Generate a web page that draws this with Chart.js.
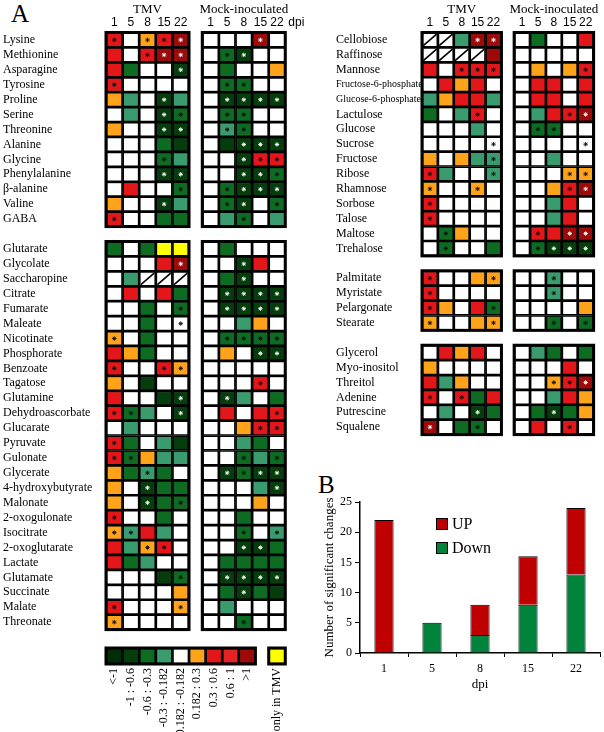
<!DOCTYPE html>
<html>
<head>
<meta charset="utf-8">
<script src="https://cdn.jsdelivr.net/npm/chart.js@4.4.0/dist/chart.umd.min.js"></script>
<style>
  body { margin: 0; background: #fff; width: 604px; height: 732px; position: relative; overflow: hidden; font-family: "Liberation Serif", serif; }
  canvas { position: absolute; }
  .panel { position: absolute; font-size: 25px; line-height: 1; color: #000; }
  #barLegend { position: absolute; left: 436px; top: 512px; font-size: 16px; color: #000; }
  #barLegend .item { display: flex; align-items: center; height: 24px; }
  #barLegend .box { width: 10px; height: 10px; border: 1px solid #000; margin-right: 4px; }
</style>
</head>
<body>
<div class="panel" style="left:11px;top:1px">A</div>
<div class="panel" style="left:318px;top:472px">B</div>
<canvas id="heatLeft" width="310" height="640" style="left:0;top:0"></canvas>
<canvas id="heatRight" width="274" height="445" style="left:330px;top:0"></canvas>
<canvas id="scaleStrip" width="310" height="92" style="left:0;top:640px"></canvas>
<canvas id="bars" width="286" height="262" style="left:318px;top:470px"></canvas>
<div id="barLegend"></div>

<script>
// ── Data ─────────────────────────────────────────────────────
// cell codes: d dark green, g green, t teal, w white, o orange, r red,
// R dark red, y yellow (only in TMV), x not detected; "*" = significant
const dpiLabels = ["1", "5", "8", "15", "22"];
const groupTitles = ["TMV", "Mock-inoculated"];

const aminoNames = ["Lysine", "Methionine", "Asparagine", "Tyrosine", "Proline", "Serine", "Threonine",
  "Alanine", "Glycine", "Phenylalanine", "β-alanine", "Valine", "GABA"];
const aminoTMV = ["r* w o* r* R*", "r w r* R* R*", "r g w w d*", "r* w w w w", "o t w d* t", "w t w d* g*",
  "o w w d* d*", "w w w g d", "w w w g* t", "w w w d* d*", "w r w w g*", "o w w d* t", "r* w w g g"];
const aminoMock = ["w w w R* w", "w g* d* w w", "w g w w o", "w g* g* w w", "w d* d* d* d*", "w g* g* w w",
  "w t* g* w w", "w d d* d* d*", "w w d* r* r*", "w w d* d* g*", "w g* d* d* d*", "w g* d* w g*", "w t g* w t"];

const organicNames = ["Glutarate", "Glycolate", "Saccharopine", "Citrate", "Fumarate", "Maleate", "Nicotinate",
  "Phosphorate", "Benzoate", "Tagatose", "Glutamine", "Dehydroascorbate", "Glucarate", "Pyruvate", "Gulonate",
  "Glycerate", "4-hydroxybutyrate", "Malonate", "2-oxogulonate", "Isocitrate", "2-oxoglutarate", "Lactate",
  "Glutamate", "Succinate", "Malate", "Threonate"];
const organicTMV = ["g w g y y", "w w w r R*", "w t x x x", "w r w r g", "w w g w g*", "w w g w w*",
  "o* w g w w", "r o g w w", "r* w w r* o*", "o w d w w", "r w w d d*", "r* g* t w d*", "w t w w w",
  "r* g w t d", "r* g* o t t", "o g t* g w", "o w d* g g", "o w d* g g*", "r* w w g w", "o* t* r t w",
  "r t o* r* w", "r g t w w", "w w w d g*", "w w w w o", "r* w w w o*", "o* w w w w"];
const organicMock = ["w g w w w", "w w d* r w", "w g d* w w", "w d* d* d* d*", "w d* d* d* d*", "w w t o w",
  "w g* g* g* g*", "w o w d* d*", "w w w w w", "w w w r* w", "w d* t w g", "w r w r r*", "w w o r* r*",
  "w w t g w", "w w g* t g*", "w d* g* d* d*", "w w w t d*", "w w w o w", "w w g w w", "w w g* w t*",
  "w w d* d* g", "w g g g g", "w d* d* d* d*", "w g d* g d", "w t w w w", "w w g* w w"];

const sugarNames = ["Cellobiose", "Raffinose", "Mannose", "Fructose-6-phosphate", "Glucose-6-phosphate",
  "Lactulose", "Glucose", "Sucrose", "Fructose", "Ribose", "Rhamnose", "Sorbose", "Talose", "Maltose", "Trehalose"];
const sugarTMV = ["x x t R* R*", "x x x x R", "r w r* r* r*", "w r o r w", "t o r r t", "g w t r* w",
  "w w w t w", "w w w w w*", "o w o t t*", "r* t w w t*", "o* w w o* w", "r* w w w w", "r* w w w w",
  "w g* o w w", "w g* w w g"];
const sugarMock = ["w g w w r", "w w w w w", "w o w o r*", "w r r w r", "w r r w r", "w t r r* R*",
  "w g* g* w w", "w w w w w*", "w w t w w", "w w w o* o*", "w w o r* R*", "w w t r w", "w w t r w",
  "w r* r R* R*", "w g* d* d* d*"];

const fattyNames = ["Palmitate", "Myristate", "Pelargonate", "Stearate"];
const fattyTMV = ["r* w w o o*", "r* w w w w", "r* o w r g*", "o* w w o o*"];
const fattyMock = ["w w t* w w", "w w t* w w", "w w w w o", "w w g* w g*"];

const otherNames = ["Glycerol", "Myo-inositol", "Threitol", "Adenine", "Putrescine", "Squalene"];
const otherTMV = ["w r o r w", "o w w w w", "r t o w w", "r* w r* g r", "w t w d* g", "R* w g g* w"];
const otherMock = ["w t g w g", "w w w r w", "w w o* r* R*", "w w t r o", "w g d* g o", "w r w r* w"];

const scaleLabels = ["<-1", "-1 : -0.6", "-0.6 : -0.3", "-0.3 : -0.182", "0.182 : -0.182",
  "0.182 : 0.3", "0.3 : 0.6", "0.6 : 1", ">1", "only in TMV"];
const scaleCodes = ["D", "d", "g", "t", "w", "o", "r", "s", "R", "y"];

const barDpi = ["1", "5", "8", "15", "22"];
const upCounts = [22, 0, 5, 8, 11];
const downCounts = [0, 5, 3, 8, 13];

// ── Styles ───────────────────────────────────────────────────
const colors = {
  D: "#022d06", d: "#053d0c", g: "#0d6b22", t: "#3a9b6e", w: "#ffffff",
  o: "#ffa31a", r: "#e3161a", s: "#e52226", R: "#9c0a0a", y: "#ffff00", x: "#ffffff",
};
const serif = "Liberation Serif";
const sans = "Liberation Sans";
const tmvX = [0, 1, 2, 3, 4];
const mockX = [5.8, 6.8, 7.8, 8.8, 9.8];
const colX = tmvX.concat(mockX);

// one blank row between groups
function buildRows(groups) {
  const rows = [];
  groups.forEach(([names, tmv, mock], gi) => {
    if (gi > 0) rows.push(null);
    names.forEach((name, i) => {
      rows.push({ name, cells: tmv[i].split(" ").concat(mock[i].split(" ")) });
    });
  });
  return rows;
}

function blockRanges(rows) {
  const out = [];
  let start = null;
  rows.forEach((r, i) => {
    if (r && start === null) start = i;
    if (!r && start !== null) { out.push([start, i - 1]); start = null; }
  });
  if (start !== null) out.push([start, rows.length - 1]);
  return out;
}

// thick frames round each block of cells, placed with the scales
const framePlugin = {
  id: "frames",
  afterDatasetsDraw(chart, args, opts) {
    const { ctx, scales: { x, y } } = chart;
    ctx.save();
    ctx.strokeStyle = "#000";
    ctx.lineWidth = 3;
    (opts.boxes || []).forEach(([c0, c1, r0, r1]) => {
      const left = x.getPixelForValue(c0), right = x.getPixelForValue(c1);
      const top = y.getPixelForValue(r0), bottom = y.getPixelForValue(r1);
      ctx.strokeRect(left, Math.min(top, bottom), right - left, Math.abs(bottom - top));
    });
    ctx.restore();
  },
};

const headerPlugin = {
  id: "header",
  afterDraw(chart, args, opts) {
    if (!opts.show) return;
    const { ctx, scales: { x }, chartArea } = chart;
    ctx.save();
    ctx.fillStyle = "#000";
    ctx.textBaseline = "middle";
    ctx.textAlign = "center";
    ctx.font = `13px "${serif}"`;
    ctx.fillText(groupTitles[0], x.getPixelForValue(tmvX[2]), 10);
    ctx.fillText(groupTitles[1], x.getPixelForValue(mockX[2]), 10);
    if (opts.dpi) {
      ctx.font = `12px "${sans}"`;
      ctx.textAlign = "left";
      ctx.fillText("dpi", chartArea.right + 3, 23);
    }
    ctx.restore();
  },
};

function drawHeatmap(id, groups, opts) {
  const rows = buildRows(groups);
  const datasets = [];
  const stars = [], starColors = [], slashes = [];

  rows.forEach((row, r) => {
    if (!row) return;
    datasets.push({
      type: "bar",
      data: colX.map((x) => ({ x, y: [r - 0.5, r + 0.5] })),
      backgroundColor: row.cells.map((c) => colors[c[0]]),
      borderColor: "#000",
      borderWidth: 1.7,
      borderSkipped: false,
      grouped: false,
      barPercentage: 1,
      categoryPercentage: 1,
      order: 1,
    });
    row.cells.forEach((c, j) => {
      if (c.includes("*")) {
        stars.push({ x: colX[j], y: r });
        starColors.push("dR".includes(c[0]) ? "#fff" : "#111");
      }
      if (c[0] === "x") slashes.push({ x: colX[j], y: r });
    });
  });

  // lower order = drawn on top of the cells
  datasets.push({
    type: "scatter", data: stars, order: -1, pointStyle: "star", pointRadius: 2.2,
    pointBorderColor: starColors, pointBorderWidth: 0.9, pointBackgroundColor: starColors,
  });
  datasets.push({
    type: "scatter", data: slashes, order: -1, pointStyle: "line", pointRadius: 8.8, pointRotation: -41,
    pointBorderColor: "#000", pointBorderWidth: 1.6,
  });

  const boxes = [];
  blockRanges(rows).forEach(([a, b]) => {
    boxes.push([-0.5, 4.5, a - 0.5, b + 0.5]);
    boxes.push([5.3, 10.3, a - 0.5, b + 0.5]);
  });

  return new Chart(document.getElementById(id), {
    type: "bar",
    data: { datasets },
    plugins: [framePlugin, headerPlugin],
    options: {
      responsive: false,
      animation: false,
      events: [],
      layout: { padding: opts.padding },
      plugins: {
        legend: { display: false },
        tooltip: { enabled: false },
        frames: { boxes },
        header: { show: true, dpi: opts.dpi },
      },
      scales: {
        x: {
          type: "linear", position: "top", min: -0.5, max: 10.3, offset: false,
          grid: { display: false, drawTicks: false }, border: { display: false },
          afterBuildTicks: (s) => { s.ticks = colX.map((value) => ({ value })); },
          afterFit: (s) => { s.height = 32.5; },
          ticks: {
            autoSkip: false, maxRotation: 0, padding: 3, color: "#000",
            font: { family: sans, size: 12 },
            callback: (v, i) => dpiLabels[i % 5],
          },
        },
        y: {
          type: "linear", reverse: true, min: -0.5, max: rows.length - 0.5,
          grid: { display: false, drawTicks: false }, border: { display: false },
          afterBuildTicks: (s) => {
            s.ticks = rows.map((r, i) => (r ? { value: i } : null)).filter(Boolean);
          },
          afterFit: (s) => { s.width = opts.labelWidth; },
          ticks: {
            autoSkip: false, crossAlign: "far", color: "#000", padding: 0,
            // the long phosphate names are set smaller so they fit before the grid
            font: (ctx) => {
              const row = ctx.tick ? rows[ctx.tick.value] : null;
              const long = row && row.name.length > 17;
              return { family: serif, size: long ? 10 : 12 };
            },
            callback: (v) => (rows[v] ? rows[v].name : ""),
          },
        },
      },
    },
  });
}

drawHeatmap("heatLeft", [[aminoNames, aminoTMV, aminoMock], [organicNames, organicTMV, organicMock]],
  { padding: { left: 3, right: 24.7, top: 0, bottom: 7.5 }, labelWidth: 103, dpi: true });

drawHeatmap("heatRight", [[sugarNames, sugarTMV, sugarMock], [fattyNames, fattyTMV, fattyMock],
  [otherNames, otherTMV, otherMock]],
  { padding: { left: 6, right: 4, top: 0, bottom: 7.5 }, labelWidth: 86, dpi: false });

// ── Colour scale strip ───────────────────────────────────────
const scaleX = [0, 1, 2, 3, 4, 5, 6, 7, 8, 9.8];
new Chart(document.getElementById("scaleStrip"), {
  type: "bar",
  data: {
    datasets: [{
      data: scaleX.map((x) => ({ x, y: [0, 1] })),
      backgroundColor: scaleCodes.map((c) => colors[c]),
      borderColor: "#000", borderWidth: 1.7, borderSkipped: false,
      barPercentage: 1, categoryPercentage: 1,
    }],
  },
  plugins: [framePlugin],
  options: {
    responsive: false,
    animation: false,
    events: [],
    layout: { padding: { left: 106, right: 24.7, top: 8, bottom: 0 } },
    plugins: {
      legend: { display: false },
      tooltip: { enabled: false },
      frames: { boxes: [[-0.5, 8.5, 0, 1], [9.3, 10.3, 0, 1]] },
    },
    scales: {
      x: {
        type: "linear", min: -0.5, max: 10.3, offset: false,
        grid: { display: false, drawTicks: false }, border: { display: false },
        afterBuildTicks: (s) => { s.ticks = scaleX.map((value) => ({ value })); },
        afterFit: (s) => { s.height = 68; },
        ticks: {
          autoSkip: false, minRotation: 90, maxRotation: 90, padding: 4, color: "#000",
          font: { family: serif, size: 12 },
          callback: (v, i) => scaleLabels[i],
        },
      },
      y: { display: false, min: 0, max: 1 },
    },
  },
});

// ── B: number of significant changes ─────────────────────────
const barChart = new Chart(document.getElementById("bars"), {
  type: "bar",
  data: {
    labels: barDpi,
    datasets: [
      { label: "Down", data: downCounts, backgroundColor: "#00843d", borderColor: "#000", borderWidth: 1 },
      { label: "UP", data: upCounts, backgroundColor: "#c00000", borderColor: "#000", borderWidth: 1 },
    ],
  },
  options: {
    responsive: false,
    animation: false,
    events: [],
    layout: { padding: { left: 0, right: 4, top: 32, bottom: 40 } },
    datasets: { bar: { barPercentage: 0.4, categoryPercentage: 1 } },
    plugins: { legend: { display: false }, tooltip: { enabled: false } },
    scales: {
      x: {
        stacked: true,
        grid: { drawOnChartArea: false, drawTicks: true, tickLength: 4, color: "#000", offset: true },
        border: { color: "#000", width: 1.5 },
        afterFit: (s) => { s.height = 39; },
        ticks: { color: "#000", padding: 5, font: { family: serif, size: 12 } },
        title: { display: true, text: "dpi", color: "#000", padding: { top: 0, bottom: 0 }, font: { family: serif, size: 13 } },
      },
      y: {
        stacked: true, min: 0, max: 25,
        grid: { drawOnChartArea: false, drawTicks: true, tickLength: 5, color: "#000" },
        border: { color: "#000", width: 1.5 },
        afterFit: (s) => { s.width = 42; },
        ticks: { stepSize: 5, color: "#000", padding: 3, font: { family: serif, size: 12 } },
        title: { display: true, text: "Number of significant changes", color: "#000", font: { family: serif, size: 13 } },
      },
    },
  },
});

// HTML legend, built from the chart's datasets (UP listed first)
const legendEl = document.getElementById("barLegend");
barChart.data.datasets.slice().reverse().forEach((ds) => {
  const item = document.createElement("div");
  item.className = "item";
  item.innerHTML = `<span class="box" style="background:${ds.backgroundColor}"></span><span>${ds.label}</span>`;
  legendEl.appendChild(item);
});
</script>
</body>
</html>
